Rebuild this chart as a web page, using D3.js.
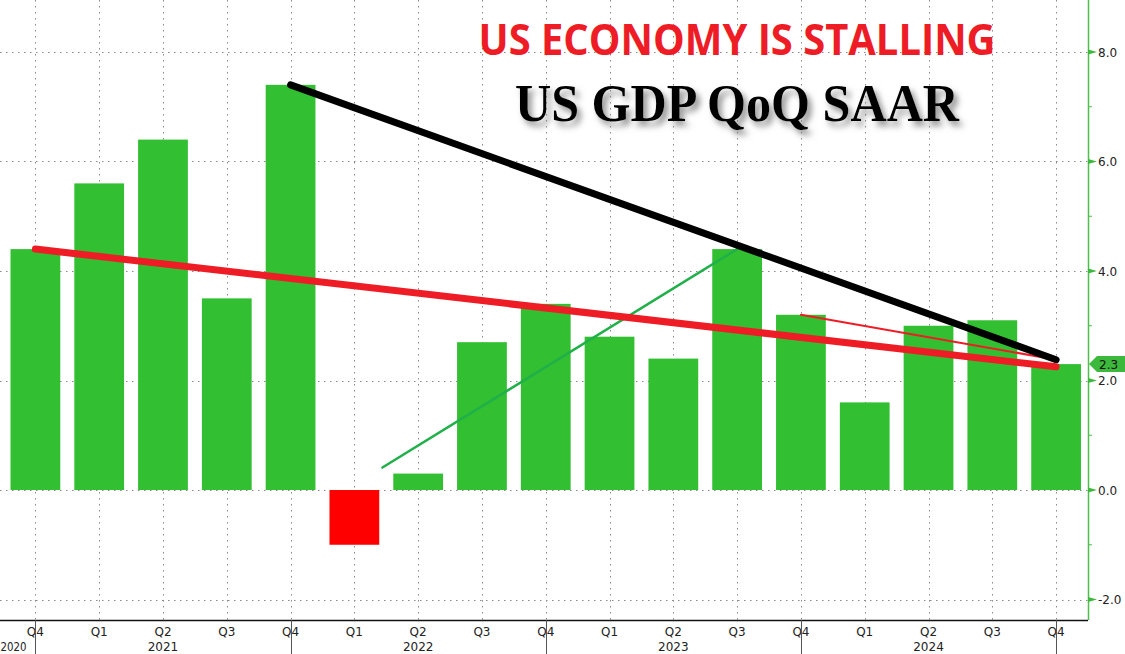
<!DOCTYPE html>
<html><head><meta charset="utf-8">
<script src="https://cdn.jsdelivr.net/npm/d3@7"></script>
<style>html,body{margin:0;padding:0;background:#fff;overflow:hidden}</style>
</head><body>
<svg id="c" width="1125" height="654"></svg>
<script>
// ---- data ----
const quarters = ["Q4","Q1","Q2","Q3","Q4","Q1","Q2","Q3","Q4","Q1","Q2","Q3","Q4","Q1","Q2","Q3","Q4"];
const years    = ["2020","2021","2021","2021","2021","2022","2022","2022","2022","2023","2023","2023","2023","2024","2024","2024","2024"];
const gdp      = [4.4, 5.6, 6.4, 3.5, 7.4, -1.0, 0.3, 2.7, 3.4, 2.8, 2.4, 4.4, 3.2, 1.6, 3.0, 3.1, 2.3];
const yTicks   = [-2, 0, 2, 4, 6, 8];
const yMinor   = [-1, 1, 3, 5, 7];
const lastValueLabel = "2.3";
const titleTop = "US ECONOMY IS STALLING";
const titleSub = "US GDP QoQ SAAR";
// trend annotations: [startIndex, startValue, endIndex, endValue]
const blackTrend = [4, 7.4, 16, 2.38];
const redTrend   = [0, 4.4, 16, 2.25];
const redThin    = [12, 3.2, 16, 2.38];
const greenThin  = [5.44, 0.41, 11, 4.4];

// ---- layout ----
const svg = d3.select("#c");
const W = 1125, H = 654, axisX = 1088, axisY = 620;
const idx = d3.range(gdp.length);
const x = d3.scaleBand().domain(idx).range([3.5, axisX]).paddingInner(0.22).paddingOuter(0.11);
const y = d3.scaleLinear().domain([-2, 8]).range([599.5, 52]);
const cx = i => x(0) + x.bandwidth()/2 + i * x.step();

const defs = svg.append("defs");
const f = defs.append("filter").attr("id","sh").attr("x","-10%").attr("y","-30%").attr("width","130%").attr("height","180%");
f.append("feDropShadow").attr("dx",4).attr("dy",5).attr("stdDeviation",3).attr("flood-color","#777").attr("flood-opacity",0.8);

// grid
const grid = svg.append("g").attr("stroke","#8a8a8a").attr("stroke-width",1).attr("stroke-dasharray","1.5,4.5");
grid.selectAll("line.h").data(yTicks).join("line")
  .attr("x1",0).attr("x2",axisX).attr("y1",d=>Math.round(y(d))+0.5).attr("y2",d=>Math.round(y(d))+0.5);
grid.selectAll("line.v").data(idx).join("line")
  .attr("x1",i=>Math.round(cx(i))+0.5).attr("x2",i=>Math.round(cx(i))+0.5).attr("y1",0).attr("y2",axisY);

// bars
svg.append("g").selectAll("rect").data(gdp).join("rect")
  .attr("x",(d,i)=>x(i)).attr("width",x.bandwidth())
  .attr("y",d=>y(Math.max(0,d))).attr("height",d=>Math.abs(y(d)-y(0)))
  .attr("fill",d=>d<0?"#ff0000":"#32bf32");

// trend lines
function trend(t, color, w){
  svg.append("line").attr("x1",cx(t[0])).attr("y1",y(t[1])).attr("x2",cx(t[2])).attr("y2",y(t[3]))
    .attr("stroke",color).attr("stroke-width",w).attr("stroke-linecap","round");
}
trend(greenThin, "#20b04a", 2.5);
trend(redThin, "#ee1c25", 2);
trend(blackTrend, "#000", 7);
trend(redTrend, "#ee1c25", 7);

// bottom axis
svg.append("line").attr("x1",0).attr("x2",axisX).attr("y1",axisY+0.5).attr("y2",axisY+0.5).attr("stroke","#111").attr("stroke-width",1.5);
const xl = svg.append("g").attr("font-family","DejaVu Sans, sans-serif").attr("font-size",12).attr("fill","#222").attr("text-anchor","middle");
xl.selectAll("text.q").data(quarters).join("text").attr("x",(d,i)=>cx(i)).attr("y",636).text(d=>d);
xl.selectAll("text.y").data(idx.filter(i=>quarters[i]==="Q2")).join("text")
  .attr("x",i=>cx(i)).attr("y",651).text(i=>years[i]);
xl.append("text").attr("x",0.5).attr("y",651).attr("text-anchor","start").attr("textLength",26).attr("lengthAdjust","spacingAndGlyphs").text(years[0]);
svg.append("g").selectAll("line").data(idx.filter(i=>quarters[i]==="Q4")).join("line")
  .attr("x1",i=>Math.round(cx(i))+0.5).attr("x2",i=>Math.round(cx(i))+0.5).attr("y1",axisY).attr("y2",H)
  .attr("stroke","#555").attr("stroke-width",1);

// right axis
svg.append("line").attr("x1",axisX+0.5).attr("x2",axisX+0.5).attr("y1",0).attr("y2",axisY).attr("stroke","#4cbf4c").attr("stroke-width",1.5);
svg.append("g").selectAll("line").data(yMinor).join("line")
  .attr("x1",axisX).attr("x2",axisX+4).attr("y1",d=>y(d)).attr("y2",d=>y(d)).attr("stroke","#4cbf4c");
svg.append("g").selectAll("path").data(yTicks).join("path")
  .attr("d",d=>`M${axisX},${y(d)-2.5}L${axisX+9},${y(d)}L${axisX},${y(d)+2.5}Z`).attr("fill","#3cb83c");
svg.append("g").attr("font-family","DejaVu Sans, sans-serif").attr("font-size",12).attr("fill","#222")
  .selectAll("text").data(yTicks).join("text")
  .attr("x",axisX+10).attr("y",d=>y(d)+4.5).text(d=>d.toFixed(1));

// last value label
const lv = gdp[gdp.length-1], ly = y(lv);
svg.append("path").attr("d",`M${axisX+1},${ly}L${axisX+9},${ly-8}L${W},${ly-8}L${W},${ly+8}L${axisX+9},${ly+8}Z`).attr("fill","#3cb83c");
svg.append("text").attr("x",axisX+11).attr("y",ly+4.5).attr("font-family","DejaVu Sans, sans-serif").attr("font-size",12).attr("fill","#111").text(lastValueLabel);

// titles
svg.append("text").attr("x",737).attr("y",55).attr("text-anchor","middle")
  .attr("font-family","Open Sans, sans-serif").attr("font-weight","bold").attr("font-size",43)
  .attr("fill","#ee1c25").attr("textLength",517).attr("lengthAdjust","spacingAndGlyphs").text(titleTop);
svg.append("text").attr("x",737).attr("y",121).attr("text-anchor","middle")
  .attr("font-family","Liberation Serif, serif").attr("font-weight","bold").attr("font-size",52)
  .attr("fill","#000").attr("filter","url(#sh)").attr("textLength",444).attr("lengthAdjust","spacingAndGlyphs").text(titleSub);
</script>
</body></html>
